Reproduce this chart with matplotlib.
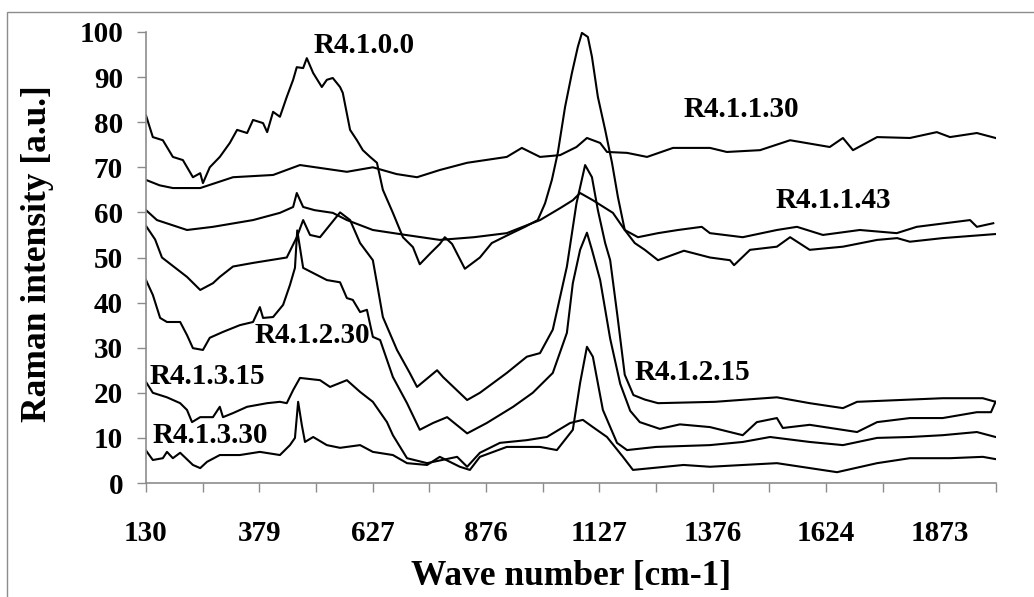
import matplotlib
matplotlib.use("Agg")
import matplotlib.pyplot as plt
from matplotlib.patches import Rectangle

plt.rcParams['font.family'] = ['Liberation Serif', 'DejaVu Serif']
plt.rcParams['font.weight'] = 'bold'

# x axis: Excel style category labels
tick_labels = ['130', '379', '627', '876', '1127', '1376', '1624', '1873']
x_min, x_max = 130, 1996

# spectra (wave number, intensity)
r4100_x = [130, 145, 167, 189, 211, 233, 249, 255, 270, 292, 314, 330, 352, 365, 387, 396, 409, 424,
           439, 453, 461, 475, 483, 497, 516, 527, 540, 556, 562, 578, 593, 606, 622, 637, 650, 672,
           694, 716, 731, 755, 775, 786, 802, 830, 863, 889, 933, 962, 990, 1006, 1021, 1034, 1050,
           1065, 1078, 1087, 1100, 1109, 1122, 1138, 1153, 1166, 1181, 1203, 1225, 1254, 1311, 1368,
           1412, 1421, 1456, 1515, 1544, 1587, 1660, 1735, 1779, 1807, 1879, 1995]
r4100_y = [81.5, 76.7, 76, 72.3, 71.6, 67.8, 68.7, 66.5, 70, 72.3, 75.4, 78.3, 77.6, 80.5, 79.8, 77.8,
           82.3, 81.2, 85.6, 89.4, 92.2, 92, 94.2, 90.9, 87.8, 89.4, 89.8, 87.8, 86.5, 78.3, 76, 73.8,
           72.3, 71, 65, 59.9, 54.5, 52.3, 48.5, 51, 53, 54.5, 53, 47.5, 50, 53.2, 55.4, 56.8, 58.3, 62,
           67.2, 73.2, 83.4, 90.9, 96.7, 99.8, 98.9, 94.5, 85.6, 78.3, 71, 63.4, 56.1, 53.2, 51.7, 49.4,
           51.5, 50, 49.4, 48.3, 51.7, 52.4, 54.5, 51.7, 52.4, 53.9, 54.3, 53.5, 54.3, 55.2]

r4130_x = [130, 160, 189, 249, 321, 409, 468, 571, 628, 680, 725, 775, 835, 922, 955, 995, 1039, 1075,
           1098, 1127, 1142, 1186, 1230, 1287, 1368, 1405, 1478, 1544, 1631, 1660, 1682, 1735, 1807,
           1866, 1895, 1954, 1995]
r4130_y = [67.2, 66, 65.4, 65.4, 67.8, 68.3, 70.5, 69, 70, 68.5, 67.8, 69.4, 71, 72.3, 74.3, 72.3, 72.7,
           74.5, 76.5, 75.4, 73.4, 73.2, 72.3, 74.3, 74.3, 73.4, 73.8, 76, 74.5, 76.5, 73.8, 76.7, 76.5,
           77.8, 76.7, 77.6, 76.5]

r4143_x = [130, 154, 220, 277, 365, 424, 453, 461, 475, 500, 540, 571, 628, 700, 775, 850, 922, 995,
           1040, 1067, 1083, 1111, 1155, 1181, 1210, 1254, 1298, 1350, 1368, 1440, 1515, 1559, 1616,
           1697, 1778, 1822, 1939, 1954, 1990]
r4143_y = [60.5, 58.3, 56.1, 56.8, 58.3, 59.9, 61.2, 64.3, 61.2, 60.5, 59.9, 58.3, 56.1, 55, 53.9, 54.5,
           55.4, 58.3, 61, 62.7, 64.3, 62.7, 59.9, 56.1, 54.5, 55.4, 56.1, 56.8, 55.4, 54.5, 56.1, 56.8,
           55, 56.1, 55.4, 56.8, 58.3, 56.8, 57.6]

r4215_x = [130, 150, 165, 220, 249, 277, 292, 321, 365, 439, 461, 475, 490, 512, 556, 578, 600, 628,
           637, 650, 681, 709, 725, 769, 782, 835, 863, 922, 966, 995, 1023, 1054, 1075, 1094, 1109,
           1122, 1138, 1149, 1165, 1181, 1200, 1225, 1254, 1379, 1515, 1587, 1660, 1691, 1879, 1967,
           1995]
r4215_y = [57, 54, 50, 45.7, 42.8, 44.3, 45.7, 48, 48.8, 50, 54.5, 58.3, 55, 54.5, 60, 58.3, 53.2, 49.4,
           44.3, 36.8, 29.5, 24.4, 21.3, 25, 23.5, 18.4, 20, 24.4, 28, 28.8, 34, 48, 62, 70.5, 67.8,
           60.5, 53.2, 49.4, 37, 24, 19.5, 18.5, 17.7, 18, 19, 17.7, 16.6, 18, 18.8, 18.8, 18]

r4230_x = [130, 145, 161, 176, 205, 220, 233, 255, 270, 299, 336, 365, 380, 387, 409, 431, 446, 457,
           462, 475, 527, 556, 571, 584, 600, 615, 628, 644, 672, 703, 731, 760, 791, 835, 878, 936,
           979, 1023, 1054, 1067, 1083, 1098, 1109, 1127, 1149, 1171, 1193, 1214, 1258, 1302, 1368,
           1440, 1471, 1515, 1528, 1587, 1691, 1735, 1807, 1879, 1954, 1985, 1995]
r4230_y = [45, 41.7, 36.6, 35.7, 35.7, 32.8, 29.9, 29.5, 32.2, 33.5, 35, 35.7, 39, 36.6, 36.8, 39.5,
           43.9, 47.7, 56, 47.7, 45, 44.5, 41, 40.6, 37.9, 38.4, 32.4, 31.7, 23.5, 17.7, 11.8, 13.3,
           14.6, 11, 13.3, 16.9, 20, 24.4, 33.3, 44.3, 51.7, 55.5, 51.7, 45, 32, 22, 16, 13.5, 12, 13,
           12.4, 10.6, 13.5, 14.4, 12.2, 12.9, 11.3, 13.5, 14.4, 14.4, 15.7, 15.7, 18]

r4315_x = [130, 145, 176, 205, 220, 231, 249, 277, 292, 299, 321, 352, 396, 424, 439, 453, 468, 512,
           534, 571, 600, 628, 659, 672, 703, 747, 813, 835, 863, 907, 966, 1010, 1061, 1089, 1111,
           1142, 1177, 1199, 1260, 1310, 1368, 1515, 1647, 1735, 1807, 1895, 1967, 1995]
r4315_y = [22.4, 20, 19, 17.7, 16.2, 13.5, 14.6, 14.6, 16.9, 14.6, 15.5, 16.9, 17.7, 18, 17.7, 20.6,
           23.3, 22.8, 21.3, 22.8, 20.2, 18, 13.5, 10.6, 5.5, 4.4, 5.8, 3.6, 6.7, 8.9, 9.5, 10.2, 13.3,
           14, 12.4, 10.2, 5.8, 2.9, 3.5, 4, 3.6, 4.4, 2.4, 4.4, 5.5, 5.5, 5.8, 5.3]

r4330_x = [130, 145, 167, 176, 189, 205, 233, 249, 264, 292, 336, 380, 424, 446, 457, 464, 472, 479,
           497, 527, 556, 600, 628, 672, 703, 747, 775, 819, 841, 863, 922, 995, 1032, 1067, 1083,
           1098, 1111, 1133, 1164, 1186, 1250, 1368, 1440, 1500, 1587, 1660, 1735, 1807, 1879, 1954,
           1995]
r4330_y = [7.2, 5.1, 5.5, 6.9, 5.5, 6.7, 4, 3.3, 4.7, 6.2, 6.2, 6.9, 6.2, 8.4, 10, 18, 12.9, 9.1, 10.2,
           8.4, 7.8, 8.4, 6.9, 6.2, 4.4, 4, 5.8, 3.6, 2.9, 5.8, 8, 8, 7.3, 11.8, 22.2, 30.2, 28, 16.2,
           8.9, 7.3, 8, 8.4, 9.1, 10.2, 9.1, 8.4, 10, 10.2, 10.6, 11.3, 10.2]

# label text, left x, centre y
label_names = ['R4.1.0.0', 'R4.1.1.30', 'R4.1.1.43', 'R4.1.2.30', 'R4.1.2.15', 'R4.1.3.15', 'R4.1.3.30']
label_x = [497, 1311, 1513, 369, 1203, 137, 145]
label_y = [96.9, 82.9, 62.7, 32.8, 24.5, 23.7, 10.6]

fig = plt.figure(figsize=(10.34, 5.97), dpi=100)
ax = fig.add_axes([146 / 1034, 1 - 483 / 597, 850 / 1034, 451 / 597])

# grey outer frame of the chart object
fig.patches.append(Rectangle((7 / 1034, -0.05), 1.2, 1 - 12 / 597 + 0.05, transform=fig.transFigure,
                             fill=False, edgecolor='#8c8c8c', lw=1.0))

for xs, ys in [(r4100_x, r4100_y), (r4130_x, r4130_y), (r4143_x, r4143_y), (r4215_x, r4215_y),
               (r4230_x, r4230_y), (r4315_x, r4315_y), (r4330_x, r4330_y)]:
    ax.plot(xs, ys, color='black', lw=1.5)

for name, lx, ly in zip(label_names, label_x, label_y):
    ax.text(lx, ly, name, fontsize=21, fontweight='bold', ha='left', va='center')

ax.set_xlim(x_min, x_max)
ax.set_ylim(0, 100)
step = (x_max - x_min) / 15
ax.set_xticks([x_min + i * step for i in range(16)])
ax.set_xticklabels([tick_labels[i // 2] if i % 2 == 0 else '' for i in range(16)])
ax.set_yticks(range(0, 101, 10))

for s in ['top', 'right']:
    ax.spines[s].set_visible(False)
for s in ['left', 'bottom']:
    ax.spines[s].set_color('#8c8c8c')
    ax.spines[s].set_linewidth(1.2)
ax.tick_params(axis='both', direction='out', length=6.5, width=1.0, color='#8c8c8c', labelsize=21)
ax.tick_params(axis='x', pad=20)
ax.tick_params(axis='y', pad=10)
for t in ax.get_xticklabels() + ax.get_yticklabels():
    t.set_fontweight('bold')

fig.text(37.5 / 1034, 1 - 254 / 597, 'Raman intensity [a.u.]', rotation=90, fontsize=25.5,
         fontweight='bold', ha='center', va='center')
fig.text(571 / 1034, 1 - 577 / 597, 'Wave number [cm-1]', fontsize=25.5, fontweight='bold',
         ha='center', va='center')

fig.savefig('out.png', dpi=100)
